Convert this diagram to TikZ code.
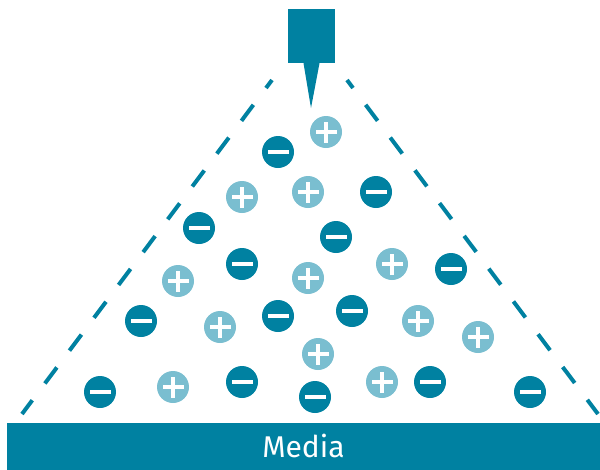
\documentclass[tikz,border=0pt]{standalone}
\usepackage{fontspec}
\setmainfont{Fira Sans}
\usetikzlibrary{positioning, calc}

\definecolor{tealdark}{RGB}{0,129,161}
\definecolor{teallight}{RGB}{122,190,208}

\begin{document}
\begin{tikzpicture}[
    x=1pt, y=-1pt,
    charge/.style={circle, inner sep=0pt, minimum size=32pt},
    negcharge/.style={charge, fill=tealdark, path picture={
        \fill[white] ($(path picture bounding box.center)+(-10.5pt,-2.2pt)$) rectangle ++(21pt,4.4pt);}},
    poscharge/.style={charge, fill=teallight, path picture={
        \fill[white] ($(path picture bounding box.center)+(-10.5pt,-2.2pt)$) rectangle ++(21pt,4.4pt);
        \fill[white] ($(path picture bounding box.center)+(-2.2pt,-10.5pt)$) rectangle ++(4.4pt,21pt);}},
    spray/.style={draw=tealdark, line width=4pt, dash pattern=on 20pt off 21pt, dash phase=10pt},
    media/.style={fill=tealdark, text=white, minimum width=593pt, minimum height=47pt, inner sep=0pt,
        font=\fontsize{30}{34}\selectfont}
]
    \useasboundingbox (0,0) rectangle (600,469);

    % Nozzle
    \node[fill=tealdark, minimum width=47pt, minimum height=54pt, inner sep=0pt] (nozzle) at (311.5,36) {};
    \coordinate (tip) at (311,108);
    \fill[tealdark] ($(nozzle.south)+(-8pt,0)$) -- ($(nozzle.south)+(8pt,0)$) -- (tip) -- cycle;

    % Spray cone
    \coordinate (lefttop) at (272,80);
    \coordinate (leftbot) at (22,414);
    \coordinate (righttop) at (347,80);
    \coordinate (rightbot) at (598,414);
    \draw[spray] (lefttop) -- (leftbot);
    \draw[spray] (righttop) -- (rightbot);

    % Media
    \node[media] (media) at (303.5,446) {Media};

    % Charges
    \node[poscharge] (p1) at (326,132) {};
    \node[negcharge] (n1) at (278,152) {};
    \node[poscharge] (p2) at (242,197) {};
    \node[poscharge] (p3) at (308,192) {};
    \node[negcharge] (n2) at (376,192) {};
    \node[negcharge] (n3) at (199,228) {};
    \node[negcharge] (n4) at (336,237) {};
    \node[negcharge] (n5) at (242,264) {};
    \node[poscharge] (p4) at (178,281) {};
    \node[poscharge] (p5) at (308,278) {};
    \node[poscharge] (p6) at (392,264) {};
    \node[negcharge] (n6) at (451,269) {};
    \node[negcharge] (n7) at (141,321) {};
    \node[poscharge] (p7) at (220,327) {};
    \node[negcharge] (n8) at (278,316) {};
    \node[negcharge] (n9) at (352,311) {};
    \node[poscharge] (p8) at (418,321) {};
    \node[poscharge] (p9) at (478,337) {};
    \node[poscharge] (p10) at (318,354) {};
    \node[negcharge] (n10) at (100,392) {};
    \node[poscharge] (p11) at (173,387) {};
    \node[negcharge] (n11) at (242,382) {};
    \node[negcharge] (n12) at (315,397) {};
    \node[poscharge] (p12) at (382,382) {};
    \node[negcharge] (n13) at (430,382) {};
    \node[negcharge] (n14) at (530,392) {};

\end{tikzpicture}
\end{document}
